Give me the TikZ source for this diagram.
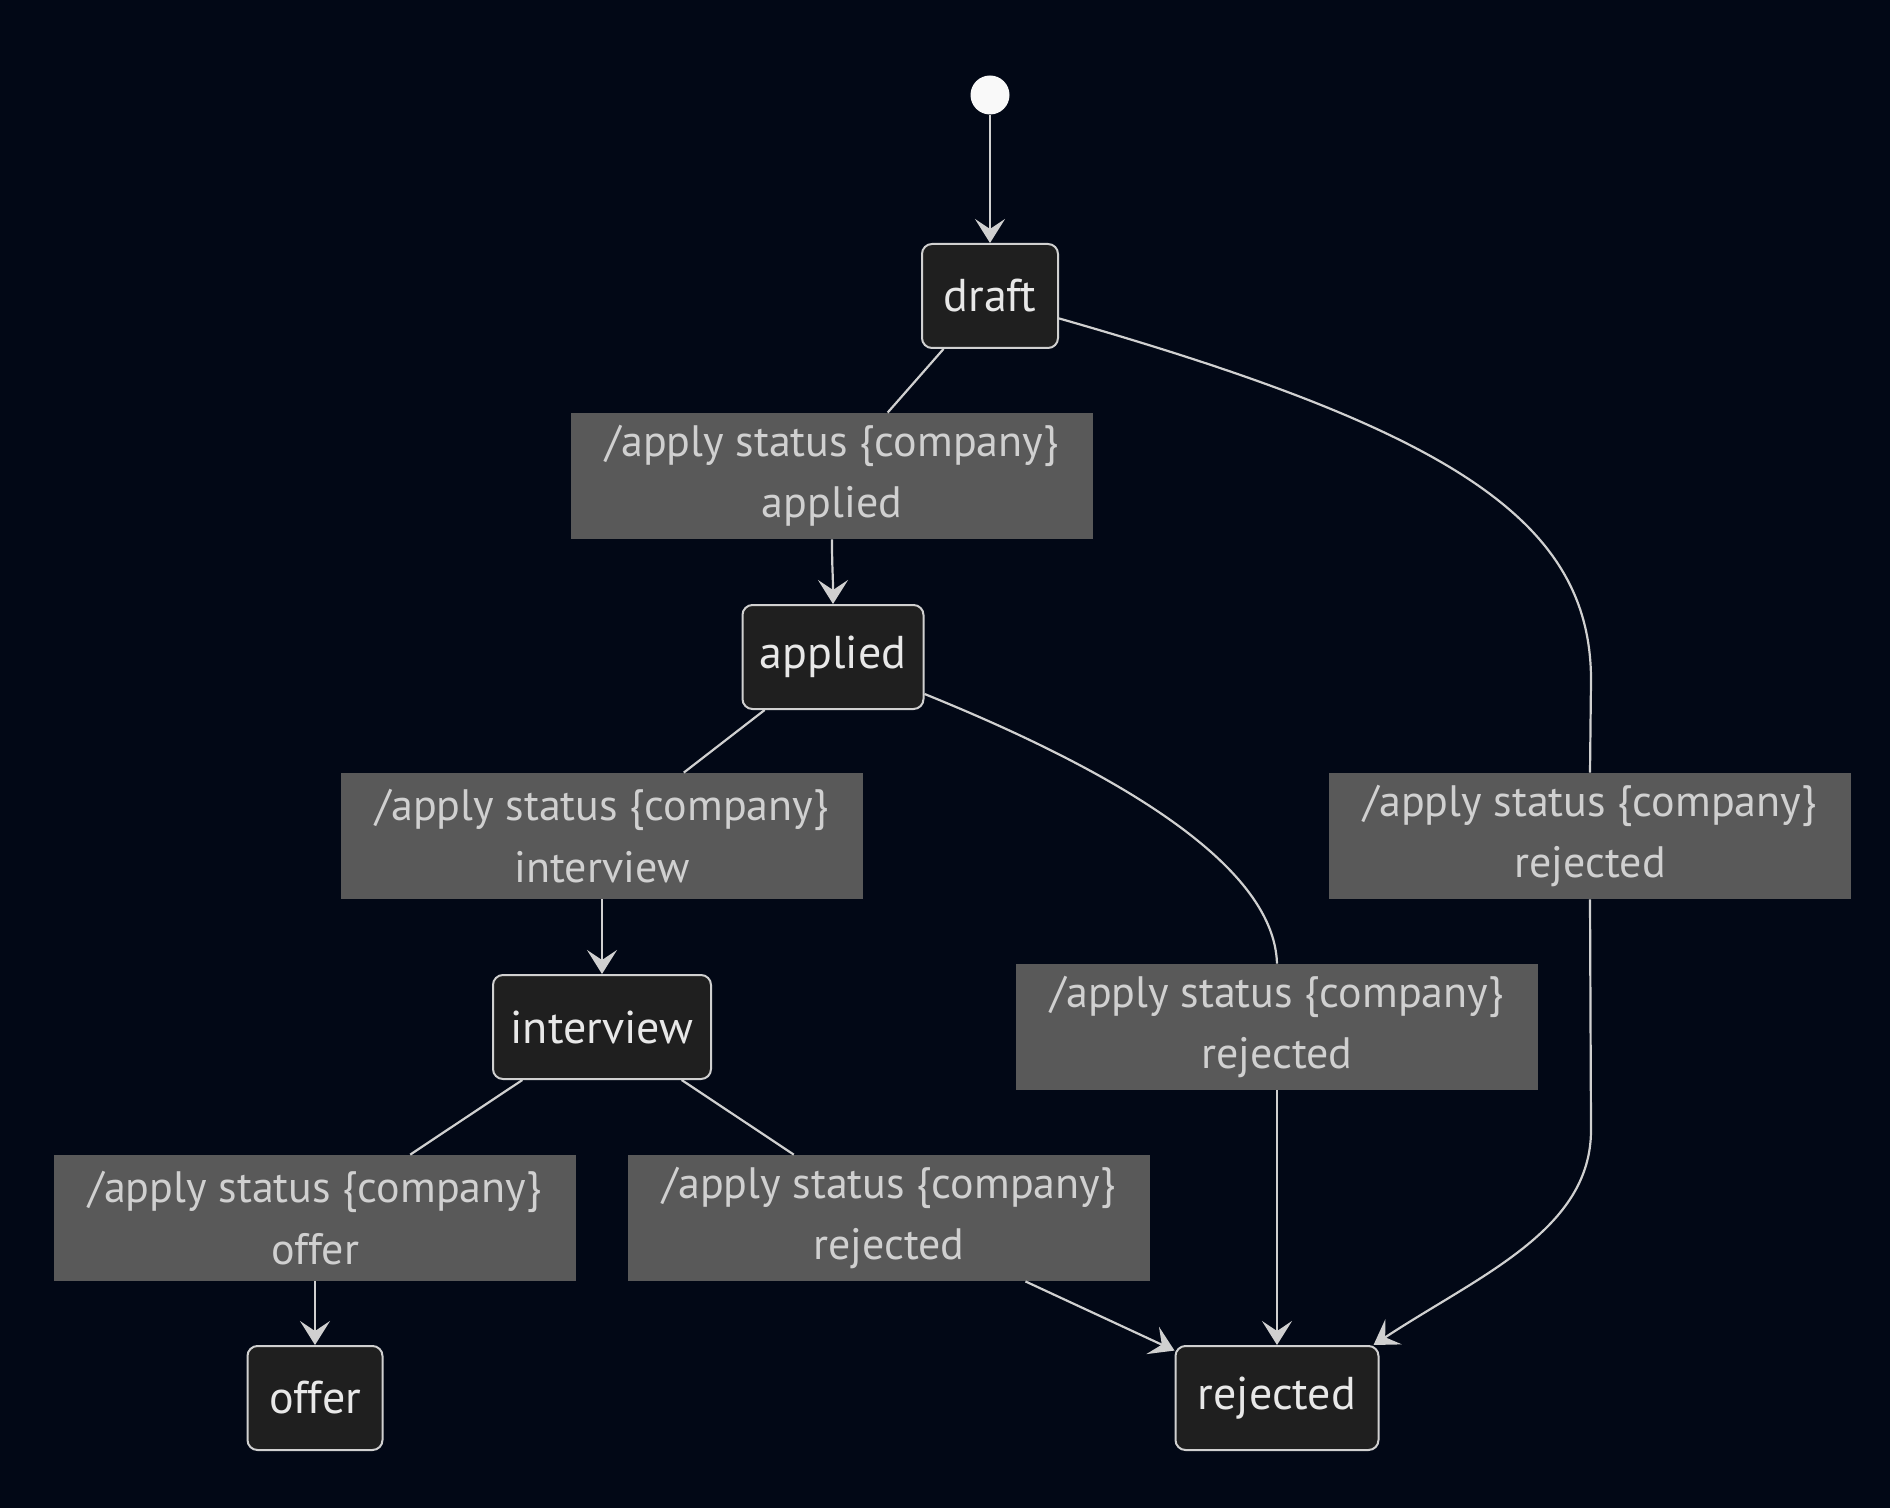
\documentclass[tikz,border=0pt]{standalone}
\usepackage{fontspec}
\setmainfont{PT Sans}
\usetikzlibrary{arrows.meta,calc}
\definecolor{bgc}{RGB}{2,8,22}
\definecolor{linec}{RGB}{208,208,208}
\definecolor{nodefill}{RGB}{31,31,31}
\definecolor{labfill}{RGB}{89,89,89}
\definecolor{labtext}{RGB}{208,208,208}
\definecolor{nodetext}{RGB}{232,232,232}
\tikzset{
  statebox/.style={draw=linec, line width=1pt, fill=nodefill, rounded corners=5pt,
    text=nodetext, minimum height=52pt, inner sep=0pt, font=\fontsize{23}{30}\selectfont},
  labbox/.style={fill=labfill, text=labtext, minimum width=261pt, minimum height=63pt,
    inner sep=0pt, align=center, font=\fontsize{22}{30.7}\selectfont},
  conn/.style={draw=linec, line width=1.1pt},
  arr/.style={conn, -{Stealth[length=12pt,width=15pt,inset=5pt]}},
}
\begin{document}
\begin{tikzpicture}[x=0.5pt,y=-0.5pt]
\fill[bgc] (0,0) rectangle (1890,1508);
\useasboundingbox (0,0) rectangle (1890,1508);
\node[circle, fill=white!95!gray, minimum size=19.5pt, inner sep=0pt] (start) at (990,95) {};
\node[statebox, minimum width=68pt] (draft) at (990,296) {draft};
\node[statebox, minimum width=90.5pt] (applied) at (833,657) {applied};
\node[statebox, minimum width=109pt] (interview) at (602,1027) {interview};
\node[statebox, minimum width=67.5pt] (offer) at (315,1398) {offer};
\node[statebox, minimum width=101.5pt] (rejected) at (1277,1398) {rejected};

\node[labbox] (l1) at (832,476) {/apply status \{company\}\\applied};
\node[labbox] (l2) at (602,836) {/apply status \{company\}\\interview};
\node[labbox] (l3) at (315,1218) {/apply status \{company\}\\offer};
\node[labbox] (l6) at (889,1218) {/apply status \{company\}\\rejected};
\node[labbox] (l4) at (1277,1027) {/apply status \{company\}\\rejected};
\node[labbox] (l5) at (1590,836) {/apply status \{company\}\\rejected};

\draw[arr] (start) -- (draft);
\draw[conn] (draft) -- (l1);
\draw[arr] (l1.south) .. controls +(0,30) and +(0,-30) .. (applied.north);
\draw[conn] (applied) -- (l2);
\draw[arr] (l2.south) .. controls +(0,30) and +(0,-30) .. (interview.north);
\draw[conn] (interview) -- (l3);
\draw[arr] (l3.south) .. controls +(0,30) and +(0,-30) .. (offer.north);
\draw[conn] (interview) -- (l6);
\draw[arr] (l6) -- (rejected);
\draw[conn] (applied.-22) .. controls (1100,765) and (1274,860) .. (l4.north);
\draw[arr] (l4.south) -- (rejected.north);
\draw[conn] (draft.-18) .. controls (1450,430) and (1591,520) .. (1591,680) -- (l5.north);
\draw[arr] (l5.south) -- (1591,1130) .. controls (1591,1230) and (1480,1275) .. ($(rejected.north east)+(-6,0)$);
\end{tikzpicture}
\end{document}
